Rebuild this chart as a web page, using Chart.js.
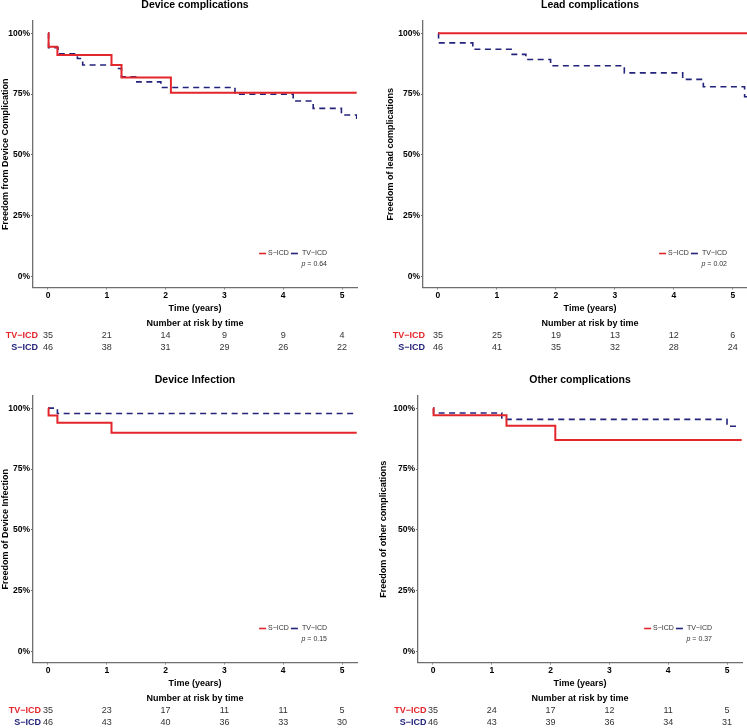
<!DOCTYPE html>
<html lang="en">
<head>
<meta charset="UTF-8">
<title>Freedom from complications: S-ICD vs TV-ICD</title>
<script src="https://cdn.jsdelivr.net/npm/chart.js"></script>
<style>
  html, body { margin: 0; padding: 0; background: #fff; }
  body { width: 747px; height: 728px; overflow: hidden; position: relative; }
  canvas { position: absolute; }
</style>
</head>
<body>
<canvas id="devComp" width="372" height="378" style="left:0;top:-15px"></canvas>
<canvas id="leadComp" width="402" height="378" style="left:370px;top:-15px"></canvas>
<canvas id="devInf" width="372" height="378" style="left:0;top:360px"></canvas>
<canvas id="otherComp" width="387" height="378" style="left:370px;top:360px"></canvas>
<script>
// shared ticks and names
var timeTicks = [0, 1, 2, 3, 4, 5];
var pctTicks = [0, 25, 50, 75, 100];
var legendNames = ['S\u2212ICD', 'TV\u2212ICD'];
var riskNames = ['TV\u2212ICD', 'S\u2212ICD'];

// Device complications
var devRedT  = [0, 0.01, 0.16, 1.08, 1.25, 2.09, 5.25];
var devRedS  = [100, 94.4, 91.0, 86.9, 81.8, 75.5, 75.5];
var devBlueT = [0, 0.01, 0.17, 0.50, 0.59, 1.18, 1.25, 1.51, 1.92, 3.18, 4.17, 4.51, 4.99, 5.25];
var devBlueS = [100, 94.0, 91.5, 89.6, 86.9, 85.5, 82.1, 80.0, 77.7, 74.9, 72.1, 69.1, 66.4, 64.1];
var devRiskTV = [35, 21, 14, 9, 9, 4];
var devRiskS  = [46, 38, 31, 29, 26, 22];
var devP = '0.64';

// Lead complications
var leadRedT  = [0, 5.41];
var leadRedS  = [100, 100];
var leadBlueT = [0, 0.01, 0.59, 1.24, 1.49, 1.91, 3.16, 4.15, 4.50, 5.20, 5.41];
var leadBlueS = [100, 96.0, 93.4, 91.3, 89.2, 86.6, 83.7, 81.0, 78.0, 73.9, 73.9];
var leadRiskTV = [35, 25, 19, 13, 12, 6];
var leadRiskS  = [46, 41, 35, 32, 28, 24];
var leadP = '0.02';

// Device infection
var infRedT  = [0, 0.01, 0.16, 1.08, 5.25];
var infRedS  = [100, 97.0, 94.0, 89.9, 89.9];
var infBlueT = [0, 0.16, 5.25];
var infBlueS = [100, 97.8, 97.8];
var infRiskTV = [35, 23, 17, 11, 11, 5];
var infRiskS  = [46, 43, 40, 36, 33, 30];
var infP = '0.15';

// Other complications
var othRedT  = [0, 0.01, 1.25, 2.08, 5.25];
var othRedS  = [100, 97.1, 92.8, 86.9, 86.9];
var othBlueT = [0, 0.01, 1.17, 5.00, 5.22];
var othBlueS = [100, 98.0, 95.4, 92.6, 92.6];
var othRiskTV = [35, 24, 17, 12, 11, 5];
var othRiskS  = [46, 43, 39, 36, 34, 31];
var othP = '0.37';

var RED = '#e3262b';
var NAVY = '#23237c';
var AXIS = '#6e6e6e';
var FONT = '"Liberation Sans", Arial, sans-serif';
Chart.defaults.font.family = FONT;

function toXY(ts, ss) {
  return ts.map(function (t, i) { return { x: t, y: ss[i] }; });
}

// legend, p value and number-at-risk table
var kmExtras = {
  id: 'kmExtras',
  afterDraw: function (chart, args, o) {
    var ctx = chart.ctx, xs = chart.scales.x, a = chart.chartArea;
    ctx.save();
    ctx.textBaseline = 'middle';

    // legend in the lower right of the plot
    var R = a.right - 30, ly = a.bottom - 34, py = a.bottom - 23.5;
    ctx.font = '7px ' + FONT;
    var w1 = ctx.measureText(legendNames[0]).width;
    var w2 = ctx.measureText(legendNames[1]).width;
    var x = R - (22 + w1 + w2);
    ctx.lineWidth = 1.6;
    ctx.strokeStyle = RED;
    ctx.beginPath(); ctx.moveTo(x, ly); ctx.lineTo(x + 7, ly); ctx.stroke();
    x += 9;
    ctx.fillStyle = '#333';
    ctx.textAlign = 'left';
    ctx.fillText(legendNames[0], x, ly);
    x += w1 + 2;
    ctx.strokeStyle = NAVY;
    ctx.beginPath(); ctx.moveTo(x, ly); ctx.lineTo(x + 7, ly); ctx.stroke();
    x += 11;
    ctx.fillText(legendNames[1], x, ly);

    var rest = ' = ' + o.p;
    var wr = ctx.measureText(rest).width;
    ctx.textAlign = 'right';
    ctx.fillText(rest, R, py);
    ctx.font = 'italic 7px ' + FONT;
    ctx.fillText('p', R - wr, py);

    // risk table
    ctx.textAlign = 'center';
    ctx.fillStyle = '#000';
    ctx.font = 'bold 9px ' + FONT;
    ctx.fillText('Number at risk by time', (a.left + a.right) / 2, 339);
    var rows = [
      { name: riskNames[0], color: RED, counts: o.riskTV, y: 351 },
      { name: riskNames[1], color: NAVY, counts: o.riskS, y: 362.5 }
    ];
    rows.forEach(function (r) {
      ctx.font = 'bold 9px ' + FONT;
      ctx.fillStyle = r.color;
      ctx.textAlign = 'right';
      ctx.fillText(r.name, xs.getPixelForValue(timeTicks[0]) - o.labelGap, r.y);
      ctx.font = '9px ' + FONT;
      ctx.fillStyle = '#333';
      ctx.textAlign = 'center';
      r.counts.forEach(function (n, i) {
        ctx.fillText(String(n), xs.getPixelForValue(timeTicks[i]), r.y);
      });
    });
    ctx.restore();
  }
};

function makePanel(id, p) {
  new Chart(document.getElementById(id), {
    type: 'line',
    data: {
      datasets: [{
        label: legendNames[0],
        data: toXY(p.redT, p.redS),
        borderColor: RED,
        borderWidth: 2,
        stepped: true,
        pointRadius: 0,
        fill: false
      }, {
        label: legendNames[1],
        data: toXY(p.blueT, p.blueS),
        borderColor: NAVY,
        borderWidth: 1.6,
        borderDash: [6, 4.5],
        stepped: true,
        pointRadius: 0,
        fill: false
      }]
    },
    options: {
      responsive: false,
      animation: false,
      devicePixelRatio: 1,
      layout: { padding: { left: 0, right: 15, top: 0, bottom: 47.5 } },
      plugins: {
        legend: { display: false },
        tooltip: { enabled: false },
        title: {
          display: true,
          fullSize: false,
          text: p.title,
          color: '#000',
          font: { size: 10.5, weight: 'bold' },
          padding: { top: 13.5, bottom: 9.9 }
        },
        kmExtras: { p: p.pval, riskTV: p.riskTV, riskS: p.riskS, labelGap: p.labelGap }
      },
      scales: {
        x: {
          type: 'linear',
          min: p.xMin,
          max: p.xMax,
          afterBuildTicks: function (s) { s.ticks = timeTicks.map(function (v) { return { value: v }; }); },
          afterFit: function (s) { s.height = 28; },
          ticks: { color: '#000', font: { size: 8.5, weight: 'bold' }, padding: 1, maxRotation: 0 },
          grid: { drawOnChartArea: false, drawTicks: true, tickLength: 2, color: AXIS },
          border: { display: true, color: AXIS, width: 1.3 },
          title: { display: true, text: 'Time (years)', color: '#000', font: { size: 9, weight: 'bold' }, padding: { top: 0, bottom: 1.6 } }
        },
        y: {
          min: -4.5,
          max: 105,
          afterBuildTicks: function (s) { s.ticks = pctTicks.map(function (v) { return { value: v }; }); },
          afterFit: function (s) { s.width = p.yW; },
          ticks: { color: '#000', font: { size: 8.5, weight: 'bold' }, padding: 1, callback: function (v) { return v + '%'; } },
          grid: { drawOnChartArea: false, drawTicks: true, tickLength: 2, color: AXIS },
          border: { display: true, color: AXIS, width: 1.3 },
          title: { display: true, text: p.yTitle, color: '#000', font: { size: 9, weight: 'bold' }, padding: { top: p.yTitlePad, bottom: 0 } }
        }
      }
    },
    plugins: [kmExtras]
  });
}

makePanel('devComp', {
  title: 'Device complications', yTitle: 'Freedom from Device Complication',
  redT: devRedT, redS: devRedS, blueT: devBlueT, blueS: devBlueS,
  riskTV: devRiskTV, riskS: devRiskS, pval: devP,
  xMin: -0.255, xMax: 5.255, yW: 33, yTitlePad: 0.6, labelGap: 10
});
makePanel('leadComp', {
  title: 'Lead complications', yTitle: 'Freedom of lead complications',
  redT: leadRedT, redS: leadRedS, blueT: leadBlueT, blueS: leadBlueS,
  riskTV: leadRiskTV, riskS: leadRiskS, pval: leadP,
  xMin: -0.254, xMax: 5.41, yW: 53, yTitlePad: 15.3, labelGap: 13
});
makePanel('devInf', {
  title: 'Device Infection', yTitle: 'Freedom of Device Infection',
  redT: infRedT, redS: infRedS, blueT: infBlueT, blueS: infBlueS,
  riskTV: infRiskTV, riskS: infRiskS, pval: infP,
  xMin: -0.255, xMax: 5.255, yW: 33, yTitlePad: 0.6, labelGap: 7
});
makePanel('otherComp', {
  title: 'Other complications', yTitle: 'Freedom of other complications',
  redT: othRedT, redS: othRedS, blueT: othBlueT, blueS: othBlueS,
  riskTV: othRiskTV, riskS: othRiskS, pval: othP,
  xMin: -0.255, xMax: 5.255, yW: 48, yTitlePad: 8, labelGap: 6.5
});
</script>
</body>
</html>
